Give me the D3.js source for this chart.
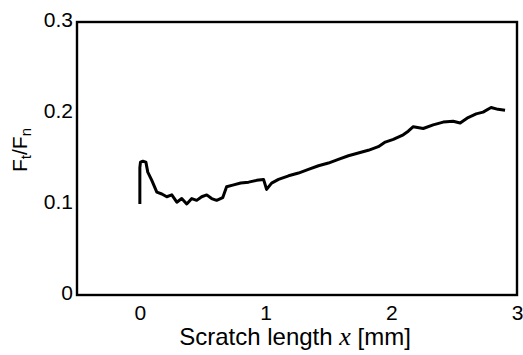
<!DOCTYPE html>
<html><head><meta charset="utf-8">
<script src="https://cdn.jsdelivr.net/npm/d3@7"></script>
<style>body{margin:0;background:#fff}svg{display:block}text{font-family:"Liberation Sans",Arial,sans-serif;fill:#000}</style>
</head><body>
<script>
const xVals = [0,0,0.005,0.024,0.048,0.063,0.095,0.135,0.175,0.214,0.254,0.294,0.333,0.373,0.413,0.452,0.492,0.532,0.571,0.611,0.659,0.690,0.746,0.802,0.865,0.929,0.984,1.008,1.048,1.103,1.183,1.262,1.341,1.421,1.500,1.579,1.659,1.738,1.817,1.897,1.952,2.016,2.095,2.135,2.175,2.254,2.333,2.413,2.492,2.548,2.611,2.675,2.730,2.794,2.849,2.905];
const yVals = [0.100,0.140,0.146,0.147,0.146,0.135,0.126,0.113,0.111,0.108,0.110,0.102,0.106,0.100,0.106,0.104,0.108,0.110,0.106,0.104,0.107,0.119,0.121,0.123,0.124,0.126,0.127,0.116,0.123,0.127,0.131,0.134,0.138,0.142,0.145,0.149,0.153,0.156,0.159,0.163,0.168,0.171,0.176,0.180,0.185,0.183,0.187,0.190,0.191,0.189,0.195,0.199,0.201,0.206,0.204,0.203];
const xTicks = [0,1,2,3];
const yTicks = [0,0.1,0.2,0.3];
const yTickLabels = ["0","0.1","0.2","0.3"];

const W=523,H=355;
const svg=d3.select("body").append("svg").attr("width",W).attr("height",H);
const x=d3.scaleLinear().domain([-0.5,3]).range([77,517]);
const y=d3.scaleLinear().domain([0,0.3]).range([295,22]);

// frame
svg.append("rect").attr("x",x(-0.5)).attr("y",y(0.3)).attr("width",x(3)-x(-0.5)).attr("height",y(0)-y(0.3))
  .attr("fill","none").attr("stroke","#000").attr("stroke-width",2.4);

const xAxis=svg.append("g").attr("transform",`translate(0,${y(0)})`)
  .call(d3.axisBottom(x).tickValues(xTicks).tickSize(0).tickPadding(10).tickFormat(d3.format("d")));
xAxis.select(".domain").remove();
xAxis.selectAll("text").attr("font-size",21).style("font-family","Liberation Sans, Arial, sans-serif").attr("fill","#000");

const yAxis=svg.append("g").attr("transform",`translate(${x(-0.5)},0)`)
  .call(d3.axisLeft(y).tickValues(yTicks).tickSize(0).tickPadding(4).tickFormat((d,i)=>yTickLabels[i]));
yAxis.select(".domain").remove();
yAxis.selectAll("text").attr("font-size",21).attr("dy","0.2em").style("font-family","Liberation Sans, Arial, sans-serif").attr("fill","#000");

const data=xVals.map((v,i)=>[v,yVals[i]]);
svg.append("path").datum(data).attr("fill","none").attr("stroke","#000").attr("stroke-width",3)
  .attr("stroke-linejoin","round")
  .attr("d",d3.line().x(d=>x(d[0])).y(d=>y(d[1])));

// x label
const xl=svg.append("text").attr("x",295).attr("y",345).attr("text-anchor","middle").attr("font-size",24);
xl.append("tspan").text("Scratch length ");
xl.append("tspan").attr("font-style","italic").attr("font-family","Liberation Serif, serif").attr("font-size",26).text("x");
xl.append("tspan").text(" [mm]");

// y label
const yl=svg.append("text").attr("transform","translate(27,150) rotate(-90)").attr("text-anchor","middle").attr("font-size",21);
yl.append("tspan").text("F");
yl.append("tspan").attr("font-size",15).attr("dy",4).text("t");
yl.append("tspan").attr("dy",-4).text("/F");
yl.append("tspan").attr("font-size",15).attr("dy",4).text("n");
</script>
</body></html>
